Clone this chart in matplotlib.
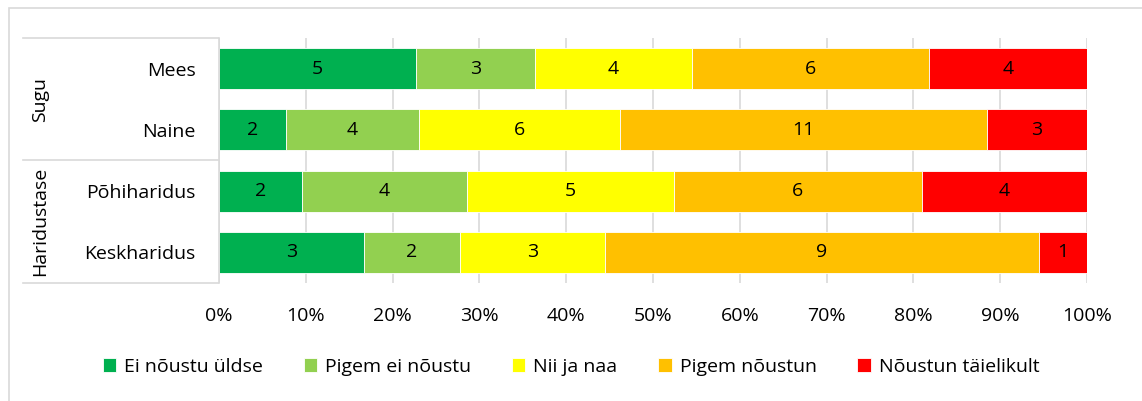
import matplotlib
matplotlib.use('Agg')
import matplotlib.pyplot as plt
from matplotlib.lines import Line2D
from matplotlib.patches import Rectangle
import numpy as np

plt.rcParams['font.family'] = ['Open Sans', 'DejaVu Sans']

categories = ['Mees', 'Naine', 'Põhiharidus', 'Keskharidus']
groups = [('Sugu', 0, 2), ('Haridustase', 2, 4)]
series = ['Ei nõustu üldse', 'Pigem ei nõustu', 'Nii ja naa', 'Pigem nõustun', 'Nõustun täielikult']
counts = np.array([
    [5, 3, 4, 6, 4],
    [2, 4, 6, 11, 3],
    [2, 4, 5, 6, 4],
    [3, 2, 3, 9, 1],
])
colors = ['#00B050', '#92D050', '#FFFF00', '#FFC000', '#FF0000']

W, H = 1142, 401
FS = 14
fig = plt.figure(figsize=(W / 100, H / 100), dpi=100)
ax = fig.add_axes([219 / W, 1 - 283 / H, (1087 - 219) / W, (283 - 38) / H])

shares = counts / counts.sum(axis=1, keepdims=True)
y = np.arange(len(categories))
left = np.zeros(len(categories))
for j, name in enumerate(series):
    ax.barh(y, shares[:, j], left=left, height=0.67, color=colors[j], label=name,
            edgecolor='white', linewidth=0.6, zorder=2)
    for i in range(len(categories)):
        ax.text(left[i] + shares[i, j] / 2, y[i], str(counts[i, j]),
                ha='center', va='center', fontsize=FS, color='black', zorder=3)
    left += shares[:, j]

ax.set_xlim(0, 1)
ax.set_ylim(3.5, -0.5)
ax.set_xticks(np.linspace(0, 1, 11))
ax.set_xticklabels([f'{int(v)}%' for v in np.linspace(0, 100, 11)], fontsize=FS)
ax.tick_params(axis='x', length=0, pad=17)
ax.set_yticks(y)
ax.set_yticklabels(categories, fontsize=FS)
ax.tick_params(axis='y', length=0, pad=17)
ax.grid(axis='x', color='#D9D9D9', linewidth=1.2, zorder=0)
for s in ['top', 'right', 'bottom']:
    ax.spines[s].set_visible(False)
ax.spines['left'].set_color('#D9D9D9')
ax.spines['left'].set_linewidth(1.2)

# group separators on the left
x0, x1 = 23 / W, 218 / W
for yy in [38, 160, 283]:
    fig.add_artist(Line2D([x0, x1], [1 - yy / H, 1 - yy / H], color='#D9D9D9', lw=1.2))
for name, a, b in groups:
    yc = (a + b - 1) / 2
    yf = fig.transFigure.inverted().transform(ax.transData.transform((0, yc)))[1]
    fig.text(40 / W, yf, name, rotation=90, ha='center', va='center', fontsize=FS)

fig.legend(loc='center', bbox_to_anchor=(0.5, 1 - 367 / H), ncol=5, frameon=False,
           fontsize=FS, handlelength=0.7, handleheight=0.7, handletextpad=0.4,
           columnspacing=2.1)

fig.add_artist(Rectangle((9 / W, -0.01), 1.0, 1 - 8 / H + 0.01, transform=fig.transFigure,
                         fill=False, edgecolor='#D9D9D9', lw=1.2))

fig.savefig('out.png', dpi=100)
